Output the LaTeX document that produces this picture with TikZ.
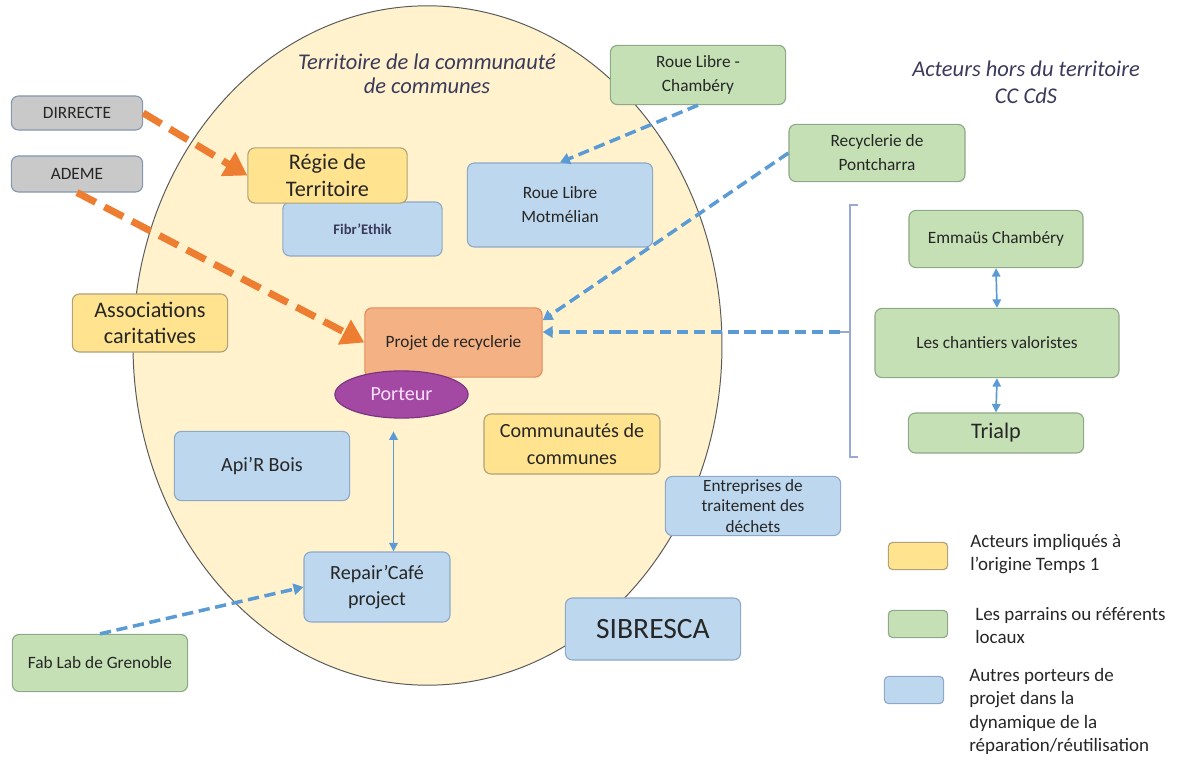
\documentclass[tikz,border=0pt]{standalone}
\usepackage{fontspec}
\setmainfont{Carlito}
\usetikzlibrary{arrows.meta}
\usetikzlibrary{shapes.geometric}

\definecolor{terrfill}{HTML}{FFF2CC}
\definecolor{terrline}{HTML}{5A5A5A}
\definecolor{grayfill}{HTML}{C9C9C9}
\definecolor{grayline}{HTML}{8497B0}
\definecolor{yelfill}{HTML}{FFE38F}
\definecolor{yelline}{HTML}{ADA27A}
\definecolor{grnfill}{HTML}{C5E0B4}
\definecolor{grnline}{HTML}{8FA88A}
\definecolor{blufill}{HTML}{BDD7EE}
\definecolor{bluline}{HTML}{8EA9C8}
\definecolor{salfill}{HTML}{F4B183}
\definecolor{salline}{HTML}{E38A5E}
\definecolor{purfill}{HTML}{A349A4}
\definecolor{purline}{HTML}{7A3280}
\definecolor{orgarrow}{HTML}{ED7D31}
\definecolor{bluarrow}{HTML}{5B9BD5}
\definecolor{brkline}{HTML}{9AA8D8}
\definecolor{titletxt}{HTML}{3A3A5C}
\definecolor{boxtxt}{HTML}{262626}

\newcommand{\boxsmall}{\fontsize{12.3}{17}\selectfont}
\newcommand{\boxmid}{\fontsize{14.3}{19}\selectfont}
\newcommand{\boxlarge}{\fontsize{15.8}{19}\selectfont}
\newcommand{\boxhuge}{\fontsize{21}{25}\selectfont}

\tikzstyle{box}=[rounded corners=5pt, line width=0.8pt, align=center, inner sep=2pt, text=boxtxt]
\tikzstyle{graybox}=[box, fill=grayfill, draw=grayline]
\tikzstyle{yelbox}=[box, fill=yelfill, draw=yelline]
\tikzstyle{grnbox}=[box, fill=grnfill, draw=grnline]
\tikzstyle{blubox}=[box, fill=blufill, draw=bluline]
\tikzstyle{orgflow}=[draw=orgarrow, line width=5pt, dash pattern=on 15pt off 7pt, -{Triangle[length=16pt,width=19pt]}]
\tikzstyle{bluflow}=[draw=bluarrow, line width=2.5pt, dash pattern=on 8pt off 4pt, -{Triangle[length=7pt,width=8pt]}]
\tikzstyle{biflow}=[draw=bluarrow, line width=1.2pt, {Triangle[length=6pt,width=6pt]}-{Triangle[length=6pt,width=6pt]}]
\tikzstyle{legtext}=[anchor=north west, inner sep=0pt, align=left, text=boxtxt, font=\fontsize{13.5}{16.6}\selectfont]

\begin{document}
\begin{tikzpicture}[x=0.025cm, y=-0.025cm]
  \useasboundingbox (0,0) rectangle (1185,760);

  % territoire
  \draw[fill=terrfill, draw=terrline, line width=0.7pt]
    (427.5,345.5) ellipse [x radius=7.36cm, y radius=8.49cm];
  \node[align=center, text=titletxt, font=\itshape\fontsize{16}{17}\selectfont] (terr)
    at (427,74) {Territoire de la communauté\\de communes};
  \node[align=center, text=titletxt, font=\itshape\fontsize{16}{19}\selectfont] (hors)
    at (1026,82) {Acteurs hors du territoire\\CC CdS};

  % acteurs
  \node[graybox, minimum width=3.28cm, minimum height=0.85cm, font=\boxsmall] (dirrecte) at (77,113) {DIRRECTE};
  \node[graybox, minimum width=3.28cm, minimum height=0.9cm, font=\boxsmall] (ademe) at (77,174) {ADEME};
  \node[blubox, minimum width=3.98cm, minimum height=1.35cm, font=\bfseries\fontsize{10.4}{12}\selectfont, text=titletxt] (fibr) at (362.5,229) {Fibr’Ethik};
  \node[yelbox, minimum width=3.98cm, minimum height=1.38cm, font=\boxlarge] (regie) at (327.5,175.5) {Régie de\\Territoire};
  \node[grnbox, minimum width=4.38cm, minimum height=1.48cm, font=\boxsmall] (chambery) at (698,75) {Roue Libre -\\Chambéry};
  \node[blubox, minimum width=4.63cm, minimum height=2.1cm, font=\boxsmall] (motmelian) at (560,205) {Roue Libre\\Motmélian};
  \node[grnbox, minimum width=4.4cm, minimum height=1.43cm, font=\boxsmall] (pontcharra) at (877,153) {Recyclerie de\\Pontcharra};
  \node[grnbox, minimum width=4.35cm, minimum height=1.43cm, font=\boxsmall] (emmaus) at (996,239) {Emmaüs Chambéry};
  \node[grnbox, minimum width=6.1cm, minimum height=1.73cm, font=\boxsmall] (chantiers) at (997,343) {Les chantiers valoristes};
  \node[grnbox, minimum width=4.38cm, minimum height=1.0cm, font=\boxlarge] (trialp) at (996,433) {Trialp};
  \node[yelbox, minimum width=3.88cm, minimum height=1.45cm, font=\boxlarge] (assoc) at (150,323) {Associations\\caritatives};
  \node[box, fill=salfill, draw=salline, minimum width=4.43cm, minimum height=1.73cm, font=\boxsmall] (projet) at (453.5,342.5) {Projet de recyclerie};
  \node[ellipse, fill=purfill, draw=purline, line width=0.8pt, minimum width=3.33cm, minimum height=1.18cm, inner sep=0pt, text={rgb,255:red,248;green,224;blue,248}, font=\boxmid] (porteur) at (401.5,394.5) {Porteur};
  \node[yelbox, minimum width=4.4cm, minimum height=1.5cm, font=\boxmid] (commu) at (572,444) {Communautés de\\communes};
  \node[blubox, minimum width=4.38cm, minimum height=1.73cm, font=\boxmid] (apir) at (262,466) {Api’R Bois};
  \node[blubox, minimum width=4.38cm, minimum height=1.48cm, font=\fontsize{12.2}{14.3}\selectfont] (entreprises) at (753,506) {Entreprises de\\traitement des\\déchets};
  \node[blubox, minimum width=3.65cm, minimum height=1.75cm, font=\boxmid] (repair) at (377,587) {Repair’Café\\project};
  \node[blubox, minimum width=4.38cm, minimum height=1.55cm, font=\boxhuge] (sibresca) at (653,629) {SIBRESCA};
  \node[grnbox, minimum width=4.38cm, minimum height=1.43cm, font=\boxsmall] (fablab) at (100,663) {Fab Lab de Grenoble};

  % accolade
  \coordinate (brace) at (840,332);
  \draw[brkline, line width=0.8pt] (858,205) -- (850,205) -- (850,457) -- (858,457);
  \draw[brkline, line width=0.8pt] (brace) -- (850,332);

  % liens
  \draw[orgflow] (dirrecte.east) -- (regie.west);
  \draw[orgflow] (ademe.south) -- (projet.west);
  \draw[bluflow] (chambery.south) -- (motmelian.north);
  \draw[bluflow] (pontcharra.west) -- (projet.14);
  \draw[bluflow] (brace) -- (projet.east |- brace);
  \draw[bluflow] (fablab.north) -- (repair.west);
  \draw[biflow, shorten <=9pt] ([xshift=-0.2cm]porteur.south) -- ([xshift=-0.2cm]porteur.south |- repair.north);
  \draw[biflow] (emmaus.south) -- (chantiers.north);
  \draw[biflow] (chantiers.south) -- (trialp.north);

  % legende
  \node[yelbox, minimum width=1.48cm, minimum height=0.68cm, rounded corners=3pt] (legyel) at (918,556) {};
  \node[grnbox, minimum width=1.48cm, minimum height=0.68cm, rounded corners=3pt] (leggrn) at (918,624) {};
  \node[blubox, minimum width=1.48cm, minimum height=0.68cm, rounded corners=3pt] (legblu) at (914,690) {};
  \node[legtext] (legyeltext) at (970,534) {Acteurs impliqués à\\l’origine Temps 1};
  \node[legtext] (leggrntext) at (975,607) {Les parrains ou référents\\locaux};
  \node[legtext] (legblutext) at (969,668) {Autres porteurs de\\projet dans la\\dynamique de la\\réparation/réutilisation};
\end{tikzpicture}
\end{document}
